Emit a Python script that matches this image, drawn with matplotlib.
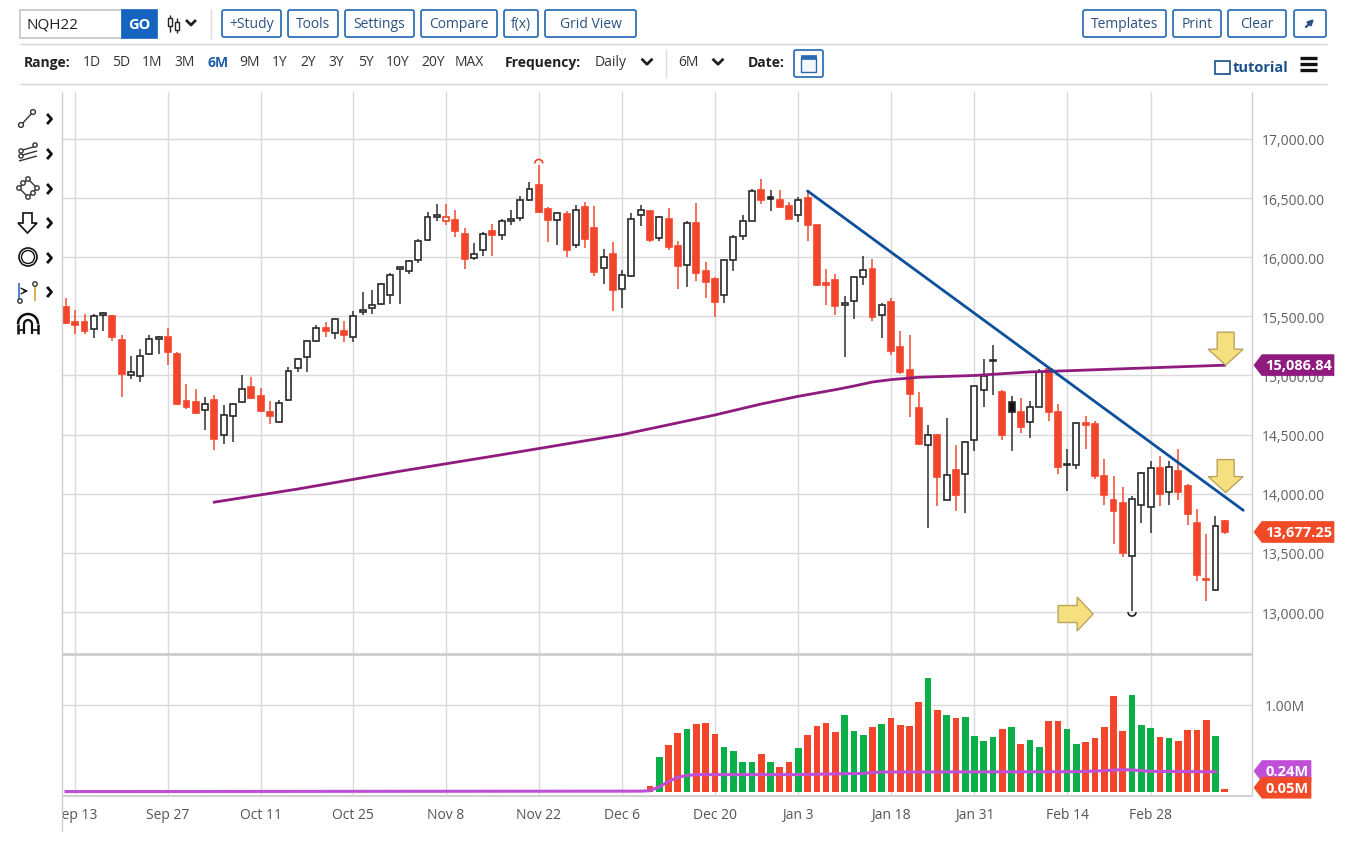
import numpy as np
import matplotlib
matplotlib.use("Agg")
import matplotlib.pyplot as plt
from matplotlib.patches import FancyBboxPatch, Polygon, Circle, Arc, Rectangle
from matplotlib.transforms import Bbox

plt.rcParams['font.family'] = ['Open Sans', 'DejaVu Sans']

# === DATA (NQH22 daily) ===
opens = [
    15576, 15452, 15452, 15393, 15515, 15500, 15297, 15001, 14993, 15182,
    15310, 15328, 15184, 14782, 14774, 14711, 14790, 14500, 14660, 14776,
    14900, 14830, 14689, 14604, 14790, 15063, 15159, 15294, 15401, 15356,
    15379, 15322, 15537, 15570, 15607, 15683, 15900, 15886, 15979, 16142,
    16340, 16303, 16317, 16196, 15993, 16058, 16218, 16190, 16308, 16331,
    16480, 16607, 16407, 16311, 16365, 16100, 16427, 16246, 15908, 16027,
    15731, 15844, 16359, 16387, 16162, 16325, 16091, 15931, 16289, 15880,
    15816, 15677, 15979, 16182, 16308, 16570, 16505, 16486, 16435, 16359,
    16500, 16269, 15775, 15804, 15593, 15627, 15830, 15903, 15508, 15618,
    15241, 15049, 14725, 14410, 14500, 13951, 14198, 14170, 14458, 14875,
    15134, 14860, 14773, 14689, 14604, 14735, 15056, 14690, 14240, 14239,
    14590, 14586, 14149, 13946, 13924, 13473, 13901, 13890, 14214, 14017,
    14192, 14065, 13755, 13280, 13186, 13769]
highs = [
    15655, 15551, 15520, 15520, 15537, 15510, 15339, 15162, 15227, 15345,
    15331, 15401, 15199, 14928, 14889, 14818, 14838, 14753, 14768, 15001,
    14984, 14894, 14782, 14790, 15069, 15148, 15297, 15430, 15452, 15485,
    15458, 15542, 15706, 15720, 15782, 15866, 15908, 15979, 16156, 16379,
    16449, 16449, 16396, 16246, 16120, 16213, 16280, 16325, 16396, 16514,
    16635, 16776, 16421, 16379, 16387, 16438, 16466, 16430, 16072, 16125,
    15894, 16373, 16438, 16401, 16345, 16415, 16139, 16308, 16458, 15959,
    15830, 15985, 16184, 16359, 16579, 16660, 16565, 16565, 16466, 16506,
    16560, 16275, 15900, 15858, 15669, 15838, 16007, 15984, 15613, 15655,
    15373, 15345, 14860, 14584, 14505, 14641, 14410, 14444, 14910, 15139,
    15261, 14875, 14824, 14810, 14782, 15056, 15060, 14755, 14380, 14605,
    14656, 14614, 14290, 14149, 14059, 13980, 14183, 14276, 14318, 14276,
    14380, 14079, 13868, 13656, 13811, 13775]
lows = [
    15435, 15351, 15351, 15314, 15373, 15289, 14818, 14973, 14942, 15175,
    15182, 15092, 14748, 14720, 14678, 14542, 14373, 14421, 14435, 14770,
    14800, 14690, 14590, 14600, 14785, 15030, 15030, 15280, 15328, 15311,
    15283, 15283, 15514, 15520, 15600, 15607, 15607, 15858, 15951, 16140,
    16308, 16275, 16168, 15903, 15979, 16007, 16007, 16148, 16275, 16308,
    16472, 16375, 16128, 16106, 15999, 16077, 16077, 15844, 15773, 15548,
    15570, 15830, 16261, 16128, 16139, 16063, 15734, 15745, 15796, 15655,
    15492, 15613, 15880, 16148, 16303, 16452, 16387, 16415, 16320, 16297,
    16140, 15754, 15599, 15514, 15156, 15480, 15768, 15463, 15317, 15176,
    15016, 14646, 14415, 13711, 13894, 13945, 13852, 13838, 14359, 14731,
    14832, 14458, 14365, 14514, 14472, 14735, 14614, 14169, 14022, 14211,
    14375, 14121, 13901, 13572, 13468, 13008, 13755, 13670, 13896, 13904,
    13946, 13732, 13262, 13093, 13180, 13656]
closes = [
    15440, 15430, 15379, 15500, 15520, 15328, 15013, 15030, 15168, 15306,
    15318, 15199, 14762, 14737, 14683, 14762, 14463, 14663, 14762, 14883,
    14810, 14697, 14655, 14768, 15041, 15137, 15294, 15401, 15379, 15480,
    15345, 15500, 15551, 15593, 15773, 15846, 15905, 15965, 16134, 16337,
    16359, 16337, 16218, 15985, 16027, 16196, 16190, 16308, 16317, 16486,
    16579, 16382, 16317, 16373, 16058, 16399, 16156, 15875, 15999, 15720,
    15846, 16325, 16396, 16148, 16337, 16083, 15922, 16289, 15866, 15787,
    15621, 15979, 16173, 16303, 16562, 16486, 16490, 16424, 16323, 16486,
    16275, 15768, 15765, 15584, 15610, 15832, 15889, 15492, 15599, 15204,
    15027, 14844, 14424, 14500, 14139, 14162, 13987, 14438, 14908, 14999,
    15120, 14494, 14689, 14562, 14734, 15028, 14690, 14228, 14245, 14600,
    14580, 14149, 13986, 13853, 13496, 13958, 14172, 14220, 13994, 14228,
    14017, 13831, 13310, 13268, 13727, 13677]

# volume in millions (contract had ~no volume before Dec 8)
volume = [0.0] * 63 + [
    0.066, 0.40, 0.54, 0.68, 0.72, 0.78, 0.79,
    0.67, 0.52, 0.47, 0.34, 0.34, 0.44, 0.35, 0.29, 0.35, 0.50,
    0.66, 0.76, 0.79, 0.69, 0.88, 0.70, 0.66, 0.75, 0.78, 0.85,
    0.77, 0.76, 1.03, 1.31, 0.94, 0.89, 0.85, 0.86, 0.64, 0.59,
    0.63, 0.72, 0.75, 0.55, 0.60, 0.52, 0.82, 0.82, 0.72, 0.55,
    0.58, 0.62, 0.75, 1.10, 0.70, 1.11, 0.77, 0.74, 0.63, 0.62,
    0.59, 0.71, 0.71, 0.83, 0.64, 0.04]

# 200-day moving average (read at a few bars)
ma_idx = [16, 25, 36, 47, 60, 70, 75, 79, 83, 85, 87, 89, 92, 98, 104, 108, 117, 125]
ma_val = [13929, 14040, 14190, 14330, 14500, 14666, 14759, 14824, 14880, 14911,
          14945, 14965, 14985, 15000, 15030, 15040, 15065, 15087]

# volume moving average (millions)
vma_idx = [0, 62, 63, 64, 65, 66, 67, 68, 79, 86, 88, 109, 111, 114, 115, 117, 124]
vma_val = [0.005, 0.01, 0.015, 0.06, 0.12, 0.17, 0.19, 0.20, 0.20, 0.214,
           0.23, 0.233, 0.24, 0.257, 0.253, 0.237, 0.233]

# blue trend line endpoints
trend_idx = [80, 127]
trend_val = [16560, 13860]

tick_idx = [1, 11, 21, 31, 41, 51, 60, 70, 79, 89, 98, 108, 117]
tick_lbl = ['Sep 13', 'Sep 27', 'Oct 11', 'Oct 25', 'Nov 8', 'Nov 22', 'Dec 6',
            'Dec 20', 'Jan 3', 'Jan 18', 'Jan 31', 'Feb 14', 'Feb 28']
price_ticks = [13000, 13500, 14000, 14500, 15000, 15500, 16000, 16500, 17000]

last_price = 13677.25
last_ma = 15086.84
last_vol = 0.05
last_vma = 0.24

# yellow marker arrows (bar index, price)
down_arrows = [(125.1, 15087), (125.1, 14010)]
right_arrows = [(110.8, 12983)]

# === COLOURS ===
RED = '#f2452b'
GREEN = '#0aaf47'
DARK = '#2a2a2a'
GRID = '#dadada'
MA_C = '#8e1b7d'
VMA_C = '#bf4fd6'
BLUE = '#0c4f9c'
BTN = '#1f66b3'

W, H = 1347, 854
fig = plt.figure(figsize=(W / 100, H / 100), dpi=100)
fig.patch.set_facecolor('white')


def px_axes(x0, y0, x1, y1):
    return fig.add_axes([x0 / W, 1 - y1 / H, (x1 - x0) / W, (y1 - y0) / H])


O = np.array(opens, float)
Hh = np.array(highs, float)
L = np.array(lows, float)
C = np.array(closes, float)
n = len(C)
x = np.arange(n)
prev = np.r_[C[0] + 1, C[:-1]]
up = C > prev
filled = C < O

# === PRICE PANEL ===
ax = px_axes(62, 93, 1252, 655)
ax.set_xlim(-0.43, 127.94)
ax.set_ylim(12645, 17397)
ax.set_axisbelow(True)
for s in ax.spines.values():
    s.set_visible(False)

edge = [DARK if u else RED for u in up]
fill = []
for u, f in zip(up, filled):
    if f:
        fill.append('#111111' if u else RED)
    else:
        fill.append('white')
ax.vlines(x, L, Hh, colors=edge, lw=1.2, zorder=2, alpha=0.9)
body_h = np.maximum(np.abs(C - O), 14)
body_b = np.minimum(O, C)
ax.bar(x, body_h, bottom=body_b, width=0.64, color=fill, edgecolor=edge,
       linewidth=1.2, zorder=3)

ax.plot(ma_idx, ma_val, color=MA_C, lw=2, zorder=4, solid_joinstyle='round')
ax.plot(trend_idx, trend_val, color=BLUE, lw=2, zorder=5, solid_capstyle='round')

ax.set_xticks(tick_idx)
ax.set_yticks(price_ticks)
ax.set_yticklabels([f'{v:,.2f}' for v in price_ticks])
ax.yaxis.tick_right()
ax.tick_params(axis='y', length=0, pad=7, labelsize=10, labelcolor='#606060')
ax.tick_params(axis='x', length=0, labelbottom=False)
ax.grid(True, color=GRID, lw=1)

# === VOLUME PANEL ===
av = px_axes(62, 655, 1252, 797)
av.set_xlim(-0.43, 127.94)
av.set_ylim(-0.046, 1.586)
av.set_axisbelow(True)
for s in av.spines.values():
    s.set_visible(False)
vcol = [GREEN if u else RED for u in up]
av.bar(x, volume, width=0.72, color=vcol, zorder=3)
av.plot(vma_idx, vma_val, color=VMA_C, lw=2.2, zorder=4)
av.set_xticks(tick_idx)
av.set_xticklabels(tick_lbl)
av.set_yticks([1.0])
av.set_yticklabels(['1.00M'])
av.yaxis.tick_right()
av.tick_params(axis='y', length=0, pad=9, labelsize=10, labelcolor='#606060')
av.tick_params(axis='x', length=0, pad=8, labelsize=10, labelcolor='#555555')
av.grid(True, color=GRID, lw=1)
first = av.get_xticklabels()[0]
first.set_clip_box(Bbox.from_extents(62, 0, W, H))
first.set_clip_on(True)

# === UI OVERLAY (pixel coords) ===
ui = fig.add_axes([0, 0, 1, 1])
ui.set_xlim(0, W)
ui.set_ylim(H, 0)
ui.axis('off')
ui.patch.set_alpha(0)


def to_px(axes, xv, yv):
    px, py = axes.transData.transform((xv, yv))
    return px, H - py


def rect(x0, y0, x1, y1, ec=BTN, fc='white', lw=1.2, r=2):
    ui.add_patch(FancyBboxPatch((x0, y0), x1 - x0, y1 - y0,
                                boxstyle=f'round,pad=0,rounding_size={r}',
                                ec=ec, fc=fc, lw=lw, zorder=5))


def txt(xx, yy, s, size=10, color='#333333', weight='normal', ha='left'):
    ui.text(xx, yy, s, fontsize=size, color=color, fontweight=weight,
            ha=ha, va='center', zorder=6)


def line(xs, ys, color='#d5d5d5', lw=1):
    ui.plot(xs, ys, color=color, lw=lw, zorder=5, solid_capstyle='butt')


def chevron(cx, cy, s=4):
    ui.plot([cx - s, cx, cx + s], [cy - s / 2, cy + s / 2, cy - s / 2],
            color='#222222', lw=2, zorder=6)


# panel frame lines
line([62, 62], [93, 832], '#cccccc')
line([1252, 1252], [93, 797], '#cccccc')
line([62, 1252], [655, 655], '#cccccc', 2)
line([62, 1252], [797, 797], '#d2d2d2', 1.5)
line([20, 1327], [45, 45], '#d5d5d5')
line([20, 1327], [85, 85], '#d5d5d5')

# toolbar row 1
rect(20, 11, 122, 39, ec='#c5c5c5', r=0)
txt(27, 25, 'NQH22', 11, '#222222')
rect(122, 11, 157, 39, ec='#1565c0', fc='#1565c0', r=0)
txt(139.5, 25, 'GO', 10.5, 'white', 'bold', 'center')
line([170, 170], [16, 33], '#222222', 1)
ui.add_patch(Rectangle((168, 19), 4, 8, fc='white', ec='#222222', lw=1, zorder=6))
line([177, 177], [19, 34], '#222222', 1)
ui.add_patch(Rectangle((175, 23), 4, 8, fc='white', ec='#222222', lw=1, zorder=6))
chevron(191, 24, 4)
line([211, 211], [10, 40], '#dddddd')
buttons = [('+Study', 222, 281), ('Tools', 288, 338), ('Settings', 345, 414),
           ('Compare', 421, 497), ('f(x)', 504, 538), ('Grid View', 545, 636),
           ('Templates', 1083, 1166), ('Print', 1173, 1221), ('Clear', 1228, 1286)]
for lbl, bx0, bx1 in buttons:
    rect(bx0, 11, bx1, 38)
    txt((bx0 + bx1) / 2, 24.5, lbl, 10, '#2c5282', ha='center')
rect(1294, 11, 1326, 38)
ui.annotate('', xy=(1316, 18), xytext=(1304, 30),
            arrowprops=dict(arrowstyle='-|>', color='#2c5282', lw=1.6,
                            mutation_scale=8), zorder=6)

# toolbar row 2
txt(24, 63, 'Range:', 10, '#222222', 'bold')
ranges = [('1D', 83), ('5D', 112), ('1M', 142), ('3M', 174), ('6M', 207),
          ('9M', 239), ('1Y', 272), ('2Y', 300), ('3Y', 328), ('5Y', 358),
          ('10Y', 386), ('20Y', 421), ('MAX', 455)]
for lbl, rx in ranges:
    if lbl == '6M':
        txt(rx, 63, lbl, 10, '#1a5fa8', 'bold')
    else:
        txt(rx, 63, lbl, 10, '#333333')
txt(505, 63, 'Frequency:', 10, '#222222', 'bold')
txt(595, 62, 'Daily', 10, '#333333')
chevron(647, 63, 4.5)
line([666, 666], [50, 79], '#dddddd')
txt(678, 62, '6M', 10, '#333333')
chevron(718, 63, 4.5)
txt(748, 63, 'Date:', 10, '#222222', 'bold')
rect(794, 51, 823, 78)
ui.add_patch(Rectangle((801, 58), 15, 15, fc='#f3f6fb', ec='#2a6ab0', lw=1, zorder=6))
ui.add_patch(Rectangle((801, 56), 15, 4, fc='#2a6ab0', ec='#2a6ab0', lw=0.5, zorder=6))
for gy in [64, 68]:
    line([801, 816], [gy, gy], '#2a6ab0', 0.6)
for gx in [805, 809, 813]:
    line([gx, gx], [60, 73], '#2a6ab0', 0.6)
ui.add_patch(Rectangle((1215, 62), 15, 13, fc='white', ec='#1a4f8a', lw=1.2, zorder=6))
for gx in [1219, 1226]:
    line([gx, gx], [62, 75], '#1a4f8a', 1)
txt(1233, 68, 'tutorial', 10.5, '#1a4f8a', 'bold')
for hy in [59, 65, 71]:
    line([1300, 1317], [hy, hy], '#111111', 2.4)

# left drawing tool icons
ic = '#333333'
line([21, 33], [126, 113], ic, 1)
for cx, cy in [(21, 126), (33, 113)]:
    ui.add_patch(Circle((cx, cy), 2.4, fc='white', ec=ic, lw=1, zorder=7))
for k in range(3):
    line([19, 37], [152 + 5 * k, 147 + 5 * k], ic, 1)
for cx, cy in [(21, 152), (21, 157), (35, 146)]:
    ui.add_patch(Circle((cx, cy), 2.1, fc='white', ec=ic, lw=1, zorder=7))
ui.add_patch(Polygon([(28, 180), (37, 189), (28, 198), (19, 189)], closed=True,
                     fc='none', ec=ic, lw=1, zorder=6))
for cx, cy in [(28, 180), (37, 189), (28, 198), (19, 189), (23, 184), (33, 194)]:
    ui.add_patch(Circle((cx, cy), 2.2, fc='white', ec=ic, lw=1, zorder=7))
ui.add_patch(Polygon([(23, 214), (32, 214), (32, 224), (37, 224), (27.5, 234),
                      (18, 224), (23, 224)], closed=True, fc='white', ec='#111111',
                     lw=1.2, zorder=6))
ui.add_patch(Circle((28, 258), 9, fc='white', ec='#111111', lw=1.2, zorder=6))
ui.add_patch(Circle((28, 258), 6.5, fc='white', ec='#111111', lw=1, zorder=7))
txt(28, 258, '0', 8, '#111111', ha='center')
line([19, 19], [284, 300], '#2f6bd0', 1.2)
ui.add_patch(Circle((20, 302), 2.2, fc='white', ec=ic, lw=1, zorder=7))
ui.annotate('', xy=(31, 292), xytext=(21, 292),
            arrowprops=dict(arrowstyle='->', color='#111111', lw=1), zorder=6)
line([35, 35], [287, 302], '#e0a030', 1.2)
ui.add_patch(Circle((35, 285), 2.2, fc='white', ec=ic, lw=1, zorder=7))
ui.add_patch(Arc((28, 325), 20, 20, theta1=180, theta2=360, ec='#111111', lw=1.8, zorder=6))
ui.add_patch(Arc((28, 325), 8, 8, theta1=180, theta2=360, ec='#111111', lw=1.6, zorder=6))
line([18, 18], [325, 335], '#111111', 1.8)
line([38, 38], [325, 335], '#111111', 1.8)
line([24, 24], [325, 335], '#111111', 1.6)
line([32, 32], [325, 335], '#111111', 1.6)
line([18, 24], [331, 331], '#111111', 1.2)
line([32, 38], [331, 331], '#111111', 1.2)
for cy in [120, 155, 190, 224, 259, 293]:
    ui.plot([48, 51.5, 48], [116 + cy - 120, 120 + cy - 120, 124 + cy - 120],
            color='#111111', lw=2, zorder=6)

# high / low markers
hx, hy = to_px(ax, 51, Hh[51])
ui.add_patch(Arc((hx, hy - 2), 8, 8, theta1=180, theta2=360, ec=RED, lw=1.2, zorder=6))
lx, ly = to_px(ax, 115, L[115])
ui.add_patch(Arc((lx, ly + 1), 8, 8, theta1=0, theta2=180, ec='#222222', lw=1.2, zorder=6))

# yellow arrows
AFC, AEC = '#f6df7e', '#b9a55c'
for ax_i, ay in down_arrows:
    tx, ty = to_px(ax, ax_i, ay)
    ui.add_patch(Polygon([(tx - 8.5, ty - 33), (tx + 8.5, ty - 33), (tx + 8.5, ty - 16),
                          (tx + 17.5, ty - 16), (tx, ty), (tx - 17.5, ty - 16),
                          (tx - 8.5, ty - 16)], closed=True, fc=AFC, ec=AEC,
                         lw=1, zorder=6))
for ax_i, ay in right_arrows:
    tx, ty = to_px(ax, ax_i, ay)
    ui.add_patch(Polygon([(tx - 35, ty - 8.5), (tx - 16, ty - 8.5), (tx - 16, ty - 17),
                          (tx, ty), (tx - 16, ty + 17), (tx - 16, ty + 8.5),
                          (tx - 35, ty + 8.5)], closed=True, fc=AFC, ec=AEC,
                         lw=1, zorder=6))


# right-hand value tags
def tag(axes, value, text, color, x1):
    _, yc = to_px(axes, 0, value)
    ui.add_patch(Polygon([(1254, yc), (1262, yc - 10.5), (x1, yc - 10.5),
                          (x1, yc + 10.5), (1262, yc + 10.5)], closed=True,
                         fc=color, ec=color, lw=0.5, zorder=7))
    ui.text((1262 + x1) / 2 + 1, yc, text, fontsize=10.5, color='white',
            fontweight='bold', ha='center', va='center', zorder=8)


tag(ax, last_ma, f'{last_ma:,.2f}', MA_C, 1334)
tag(ax, last_price, f'{last_price:,.2f}', '#f04a27', 1334)
tag(av, last_vma, f'{last_vma:.2f}M', VMA_C, 1311)
tag(av, last_vol, f'{last_vol:.2f}M', '#f04a27', 1311)

fig.savefig('out.png', dpi=100)
